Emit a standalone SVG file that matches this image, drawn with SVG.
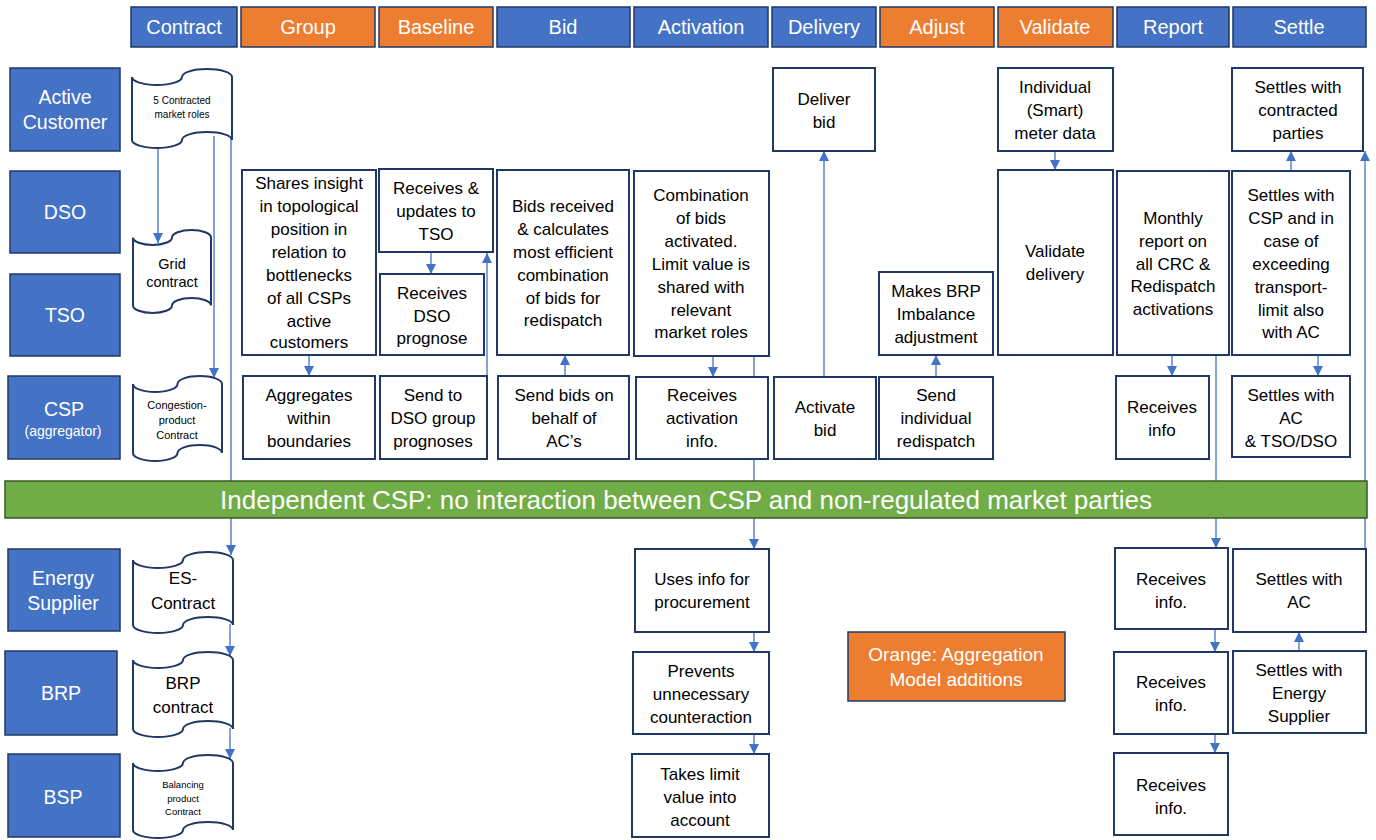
<svg xmlns="http://www.w3.org/2000/svg" width="1376" height="840" viewBox="0 0 1376 840">
<style>
.bl{fill:#4472C4;stroke:#203864;stroke-width:1.5}
.or{fill:#ED7D31;stroke:#203864;stroke-width:1.5}
.wb{fill:#fff;stroke:#1F3864;stroke-width:2}
.doc{fill:#fff;stroke:#1F3864;stroke-width:2}
.gr{fill:#70AD47;stroke:#385723;stroke-width:1.5}
text{font-family:"Liberation Sans",Arial,sans-serif;text-anchor:middle}
.ht{fill:#fff;font-size:20px}
.rt{fill:#fff;font-size:19.5px}
.bt{fill:#000;font-size:17px}
.cn line{stroke:#4472C4;stroke-width:1.3;fill:none}
</style>
<defs>
<marker id="ah" markerUnits="userSpaceOnUse" markerWidth="10" markerHeight="10" refX="10" refY="5" orient="auto">
<path d="M0,0 L10,5 L0,10 Z" fill="#4472C4"/>
</marker>
</defs>

<g id="connectors" class="cn">
<line x1="158" y1="146" x2="158" y2="243" marker-end="url(#ah)"/>
<line x1="214" y1="136" x2="214" y2="378" marker-end="url(#ah)"/>
<line x1="231" y1="128" x2="231" y2="555" marker-end="url(#ah)"/>
<line x1="230" y1="624" x2="230" y2="656" marker-end="url(#ah)"/>
<line x1="230" y1="728" x2="230" y2="759" marker-end="url(#ah)"/>
<line x1="309" y1="355" x2="309" y2="376" marker-end="url(#ah)"/>
<line x1="431" y1="252" x2="431" y2="274" marker-end="url(#ah)"/>
<line x1="487" y1="376" x2="487" y2="253" marker-end="url(#ah)"/>
<line x1="565" y1="376" x2="565" y2="355" marker-end="url(#ah)"/>
<line x1="713" y1="356" x2="713" y2="377" marker-end="url(#ah)"/>
<line x1="754" y1="356" x2="754" y2="549" marker-end="url(#ah)"/>
<line x1="824" y1="377" x2="824" y2="151" marker-end="url(#ah)"/>
<line x1="936" y1="377" x2="936" y2="355" marker-end="url(#ah)"/>
<line x1="1055" y1="151" x2="1055" y2="170" marker-end="url(#ah)"/>
<line x1="1172" y1="355" x2="1172" y2="376" marker-end="url(#ah)"/>
<line x1="1216" y1="355" x2="1216" y2="548" marker-end="url(#ah)"/>
<line x1="1291" y1="171" x2="1291" y2="151" marker-end="url(#ah)"/>
<line x1="1318" y1="355" x2="1318" y2="376" marker-end="url(#ah)"/>
<line x1="1365" y1="549" x2="1365" y2="151" marker-end="url(#ah)"/>
<line x1="754" y1="632" x2="754" y2="652" marker-end="url(#ah)"/>
<line x1="754" y1="734" x2="754" y2="754" marker-end="url(#ah)"/>
<line x1="1215" y1="629" x2="1215" y2="652" marker-end="url(#ah)"/>
<line x1="1215" y1="734" x2="1215" y2="753" marker-end="url(#ah)"/>
<line x1="1299" y1="651" x2="1299" y2="632" marker-end="url(#ah)"/>
</g>

<g id="headers">
<g id="h-contract"><rect class="bl" x="131" y="7" width="106" height="40"/><text class="ht" x="184" y="34">Contract</text></g>
<g id="h-group"><rect class="or" x="241" y="7" width="134" height="40"/><text class="ht" x="308" y="34">Group</text></g>
<g id="h-baseline"><rect class="or" x="379" y="7" width="114" height="40"/><text class="ht" x="436" y="34">Baseline</text></g>
<g id="h-bid"><rect class="bl" x="497" y="7" width="133" height="40"/><text class="ht" x="563" y="34">Bid</text></g>
<g id="h-activation"><rect class="bl" x="634" y="7" width="134" height="40"/><text class="ht" x="701" y="34">Activation</text></g>
<g id="h-delivery"><rect class="bl" x="772" y="7" width="104" height="40"/><text class="ht" x="824" y="34">Delivery</text></g>
<g id="h-adjust"><rect class="or" x="880" y="7" width="114" height="40"/><text class="ht" x="937" y="34">Adjust</text></g>
<g id="h-validate"><rect class="or" x="998" y="7" width="115" height="40"/><text class="ht" x="1055" y="34">Validate</text></g>
<g id="h-report"><rect class="bl" x="1117" y="7" width="112" height="40"/><text class="ht" x="1173" y="34">Report</text></g>
<g id="h-settle"><rect class="bl" x="1233" y="7" width="133" height="40"/><text class="ht" x="1299" y="34">Settle</text></g>
</g>

<g id="roles">
<g id="r-ac"><rect class="bl" x="10" y="68" width="110" height="83"/><text class="rt" x="65" y="104">Active</text><text class="rt" x="65" y="129">Customer</text></g>
<g id="r-dso"><rect class="bl" x="10" y="171" width="110" height="82"/><text class="rt" x="65" y="219">DSO</text></g>
<g id="r-tso"><rect class="bl" x="10" y="274" width="110" height="82"/><text class="rt" x="65" y="322">TSO</text></g>
<g id="r-csp"><rect class="bl" x="8" y="376" width="112" height="83"/><text class="rt" x="64" y="416">CSP</text><text class="rt" x="63" y="436" style="font-size:14px">(aggregator)</text></g>
<g id="r-es"><rect class="bl" x="8" y="549" width="112" height="82"/><text class="rt" x="63" y="585">Energy</text><text class="rt" x="63" y="610">Supplier</text></g>
<g id="r-brp"><rect class="bl" x="5" y="651" width="112" height="84"/><text class="rt" x="61" y="700">BRP</text></g>
<g id="r-bsp"><rect class="bl" x="8" y="754" width="112" height="83"/><text class="rt" x="63" y="804">BSP</text></g>
</g>

<g id="contracts">
<g id="d-5roles"><path class="doc" d="M132,77 A25,8 0 0 0 182,77 A25,8 0 0 1 232,77 L232,140 A25,8 0 0 0 182,140 A25,8 0 0 1 132,140 Z"/><text class="bt" x="182" y="104" style="font-size:10px">5 Contracted</text><text class="bt" x="182" y="118" style="font-size:10px">market roles</text></g>
<g id="d-grid"><path class="doc" d="M133,237.5 A19.5,7.5 0 0 0 172,237.5 A19.5,7.5 0 0 1 211,237.5 L211,305.5 A19.5,7.5 0 0 0 172,305.5 A19.5,7.5 0 0 1 133,305.5 Z"/><text class="bt" x="172" y="269" style="font-size:14.5px">Grid</text><text class="bt" x="172" y="287" style="font-size:14.5px">contract</text></g>
<g id="d-congestion"><path class="doc" d="M133,384 A22.25,8 0 0 0 177.5,384 A22.25,8 0 0 1 222,384 L222,453 A22.25,8 0 0 0 177.5,453 A22.25,8 0 0 1 133,453 Z"/><text class="bt" x="177" y="409" style="font-size:11px">Congestion-</text><text class="bt" x="177" y="424" style="font-size:11px">product</text><text class="bt" x="177" y="439" style="font-size:11px">Contract</text></g>
<g id="d-es"><path class="doc" d="M133,560 A25,8 0 0 0 183,560 A25,8 0 0 1 233,560 L233,625 A25,8 0 0 0 183,625 A25,8 0 0 1 133,625 Z"/><text class="bt" x="183" y="584">ES-</text><text class="bt" x="183" y="609">Contract</text></g>
<g id="d-brp"><path class="doc" d="M133,660 A25,8 0 0 0 183,660 A25,8 0 0 1 233,660 L233,729 A25,8 0 0 0 183,729 A25,8 0 0 1 133,729 Z"/><text class="bt" x="183" y="689">BRP</text><text class="bt" x="183" y="713">contract</text></g>
<g id="d-bsp"><path class="doc" d="M133,763 A25,8 0 0 0 183,763 A25,8 0 0 1 233,763 L233,830 A25,8 0 0 0 183,830 A25,8 0 0 1 133,830 Z"/><text class="bt" x="183" y="788" style="font-size:9.5px">Balancing</text><text class="bt" x="183" y="802" style="font-size:9.5px">product</text><text class="bt" x="183" y="815" style="font-size:9.5px">Contract</text></g>
</g>

<g id="steps">
<g id="n-shares"><rect class="wb" x="242" y="170" width="134" height="185"/>
<text class="bt" x="309" y="189">Shares insight</text><text class="bt" x="309" y="212">in topological</text><text class="bt" x="309" y="235">position in</text><text class="bt" x="309" y="258">relation to</text><text class="bt" x="309" y="281">bottlenecks</text><text class="bt" x="309" y="304">of all CSPs</text><text class="bt" x="309" y="327">active</text><text class="bt" x="309" y="348">customers</text></g>
<g id="n-aggregates"><rect class="wb" x="243" y="376" width="132" height="83"/><text class="bt" x="309" y="401">Aggregates</text><text class="bt" x="309" y="424">within</text><text class="bt" x="309" y="447">boundaries</text></g>
<g id="n-recupd"><rect class="wb" x="379" y="169" width="114" height="83"/><text class="bt" x="436" y="194">Receives &amp;</text><text class="bt" x="436" y="217">updates to</text><text class="bt" x="436" y="240">TSO</text></g>
<g id="n-recdso"><rect class="wb" x="380" y="274" width="104" height="81"/><text class="bt" x="432" y="299">Receives</text><text class="bt" x="432" y="322">DSO</text><text class="bt" x="432" y="344">prognose</text></g>
<g id="n-senddso"><rect class="wb" x="380" y="376" width="107" height="83"/><text class="bt" x="433" y="401">Send to</text><text class="bt" x="433" y="424">DSO group</text><text class="bt" x="433" y="447">prognoses</text></g>
<g id="n-bidsrec"><rect class="wb" x="497" y="170" width="132" height="185"/><text class="bt" x="563" y="212">Bids received</text><text class="bt" x="563" y="235">&amp; calculates</text><text class="bt" x="563" y="258">most efficient</text><text class="bt" x="563" y="281">combination</text><text class="bt" x="563" y="304">of bids for</text><text class="bt" x="563" y="326">redispatch</text></g>
<g id="n-sendbids"><rect class="wb" x="498" y="376" width="131" height="83"/><text class="bt" x="564" y="401">Send bids on</text><text class="bt" x="564" y="424">behalf of</text><text class="bt" x="564" y="447">AC’s</text></g>
<g id="n-combination"><rect class="wb" x="634" y="171" width="135" height="185"/><text class="bt" x="701" y="201">Combination</text><text class="bt" x="701" y="224">of bids</text><text class="bt" x="701" y="247">activated.</text><text class="bt" x="701" y="270">Limit value is</text><text class="bt" x="701" y="293">shared with</text><text class="bt" x="701" y="316">relevant</text><text class="bt" x="701" y="338">market roles</text></g>
<g id="n-recact"><rect class="wb" x="636" y="377" width="132" height="82"/><text class="bt" x="702" y="401">Receives</text><text class="bt" x="702" y="424">activation</text><text class="bt" x="702" y="447">info.</text></g>
<g id="n-deliver"><rect class="wb" x="773" y="68" width="102" height="83"/><text class="bt" x="824" y="105">Deliver</text><text class="bt" x="824" y="128">bid</text></g>
<g id="n-activate"><rect class="wb" x="774" y="377" width="102" height="82"/><text class="bt" x="825" y="413">Activate</text><text class="bt" x="825" y="436">bid</text></g>
<g id="n-makesbrp"><rect class="wb" x="879" y="272" width="114" height="83"/><text class="bt" x="936" y="297">Makes BRP</text><text class="bt" x="936" y="320">Imbalance</text><text class="bt" x="936" y="343">adjustment</text></g>
<g id="n-sendind"><rect class="wb" x="879" y="377" width="114" height="82"/><text class="bt" x="936" y="401">Send</text><text class="bt" x="936" y="424">individual</text><text class="bt" x="936" y="447">redispatch</text></g>
<g id="n-meter"><rect class="wb" x="998" y="68" width="115" height="83"/><text class="bt" x="1055" y="93">Individual</text><text class="bt" x="1055" y="116">(Smart)</text><text class="bt" x="1055" y="139">meter data</text></g>
<g id="n-validate"><rect class="wb" x="998" y="170" width="115" height="185"/><text class="bt" x="1055" y="257">Validate</text><text class="bt" x="1055" y="280">delivery</text></g>
<g id="n-monthly"><rect class="wb" x="1117" y="171" width="112" height="184"/><text class="bt" x="1173" y="224">Monthly</text><text class="bt" x="1173" y="247">report on</text><text class="bt" x="1173" y="270">all CRC &amp;</text><text class="bt" x="1173" y="292">Redispatch</text><text class="bt" x="1173" y="315">activations</text></g>
<g id="n-recinfo"><rect class="wb" x="1116" y="376" width="93" height="83"/><text class="bt" x="1162" y="413">Receives</text><text class="bt" x="1162" y="436">info</text></g>
<g id="n-setcontr"><rect class="wb" x="1232" y="68" width="131" height="83"/><text class="bt" x="1298" y="93">Settles with</text><text class="bt" x="1298" y="116">contracted</text><text class="bt" x="1298" y="139">parties</text></g>
<g id="n-setcsp"><rect class="wb" x="1232" y="171" width="118" height="184"/><text class="bt" x="1291" y="201">Settles with</text><text class="bt" x="1291" y="224">CSP and in</text><text class="bt" x="1291" y="247">case of</text><text class="bt" x="1291" y="270">exceeding</text><text class="bt" x="1291" y="293">transport-</text><text class="bt" x="1291" y="316">limit also</text><text class="bt" x="1291" y="338">with AC</text></g>
<g id="n-setactso"><rect class="wb" x="1232" y="376" width="118" height="81"/><text class="bt" x="1291" y="401">Settles with</text><text class="bt" x="1291" y="424">AC</text><text class="bt" x="1291" y="447">&amp; TSO/DSO</text></g>
</g>

<g id="banner"><rect class="gr" x="5" y="481" width="1362" height="37"/><text x="686" y="509" style="fill:#fff;font-size:26px">Independent CSP: no interaction between CSP and non-regulated market parties</text></g>

<g id="lower">
<g id="n-uses"><rect class="wb" x="635" y="549" width="134" height="83"/><text class="bt" x="702" y="585">Uses info for</text><text class="bt" x="702" y="608">procurement</text></g>
<g id="n-prevents"><rect class="wb" x="633" y="652" width="136" height="82"/><text class="bt" x="701" y="677">Prevents</text><text class="bt" x="701" y="700">unnecessary</text><text class="bt" x="701" y="723">counteraction</text></g>
<g id="n-takes"><rect class="wb" x="632" y="754" width="137" height="83"/><text class="bt" x="700" y="780">Takes limit</text><text class="bt" x="700" y="803">value into</text><text class="bt" x="700" y="826">account</text></g>
<g id="n-recinfo1"><rect class="wb" x="1115" y="548" width="113" height="81"/><text class="bt" x="1171" y="585">Receives</text><text class="bt" x="1171" y="608">info.</text></g>
<g id="n-recinfo2"><rect class="wb" x="1114" y="652" width="114" height="82"/><text class="bt" x="1171" y="688">Receives</text><text class="bt" x="1171" y="711">info.</text></g>
<g id="n-recinfo3"><rect class="wb" x="1114" y="753" width="114" height="82"/><text class="bt" x="1171" y="791">Receives</text><text class="bt" x="1171" y="814">info.</text></g>
<g id="n-setac"><rect class="wb" x="1233" y="549" width="133" height="83"/><text class="bt" x="1299" y="585">Settles with</text><text class="bt" x="1299" y="608">AC</text></g>
<g id="n-setes"><rect class="wb" x="1233" y="651" width="133" height="82"/><text class="bt" x="1299" y="676">Settles with</text><text class="bt" x="1299" y="699">Energy</text><text class="bt" x="1299" y="722">Supplier</text></g>
</g>

<g id="legend"><rect class="or" x="848" y="632" width="217" height="69"/><text class="ht" x="956" y="661" style="font-size:19px">Orange: Aggregation</text><text class="ht" x="956" y="686" style="font-size:19px">Model additions</text></g>
</svg>
